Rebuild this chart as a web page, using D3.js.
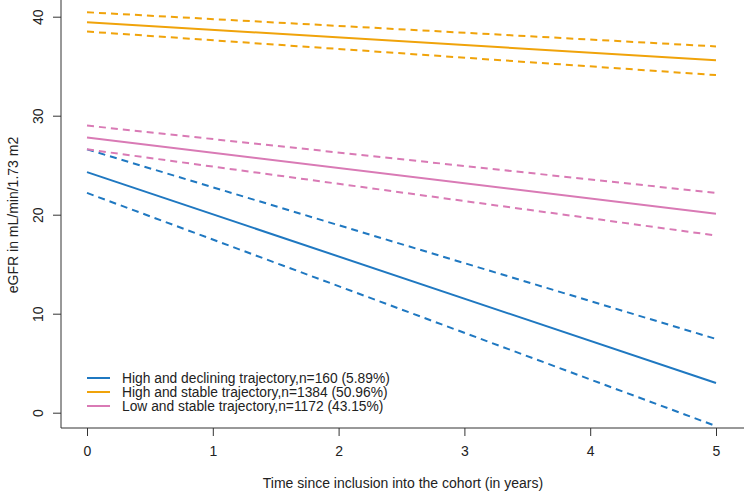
<!DOCTYPE html>
<html><head><meta charset="utf-8">
<script src="https://cdn.jsdelivr.net/npm/d3@7"></script>
<style>body{margin:0;background:#fff}svg{display:block}text{font-family:"Liberation Sans",Arial,sans-serif;fill:#222}</style>
</head><body>
<script>
const years = [0, 5];
const xTicks = [0, 1, 2, 3, 4, 5];
const yTicks = [0, 10, 20, 30, 40];
const groups = ["High and declining trajectory,n=160 (5.89%)", "High and stable trajectory,n=1384 (50.96%)", "Low and stable trajectory,n=1172 (43.15%)"];
const colors = ["#1f78c1", "#f0a30a", "#d97ab5"];
const meanDeclining = [24.3, 3.0];
const upperDeclining = [26.6, 7.45];
const lowerDeclining = [22.2, -1.35];
const meanHighStable = [39.45, 35.6];
const upperHighStable = [40.45, 37.0];
const lowerHighStable = [38.5, 34.1];
const meanLowStable = [27.8, 20.1];
const upperLowStable = [29.0, 22.2];
const lowerLowStable = [26.6, 17.9];

const W = 744, H = 494;
const svg = d3.select("body").append("svg").attr("width", W).attr("height", H);
const x = d3.scaleLinear().domain([0, 5]).range([87, 716]);
const y = d3.scaleLinear().domain([0, 40]).range([412.7, 16.7]);

svg.append("line").attr("x1", 61).attr("x2", 61).attr("y1", 0).attr("y2", 428).attr("stroke", "#333").attr("stroke-width", 1);
svg.append("line").attr("x1", 61).attr("x2", W).attr("y1", 428).attr("y2", 428).attr("stroke", "#333").attr("stroke-width", 1);

const xAxis = svg.append("g").attr("transform", "translate(0,428)")
  .call(d3.axisBottom(x).tickValues(xTicks).tickFormat(d3.format("d")).tickSize(8).tickPadding(10));
xAxis.select(".domain").remove();
xAxis.selectAll("line").attr("stroke", "#333");
xAxis.selectAll("text").attr("font-size", 14).style("fill", "#222");

const yAxis = svg.append("g").attr("transform", "translate(61,0)")
  .call(d3.axisLeft(y).tickValues(yTicks).tickFormat(d3.format("d")).tickSize(8).tickPadding(0));
yAxis.select(".domain").remove();
yAxis.selectAll("line").attr("stroke", "#333");
yAxis.selectAll("text").attr("font-size", 14).style("fill", "#222")
  .attr("text-anchor", "middle")
  .attr("transform", "translate(-23,0) rotate(-90)")
  .attr("x", 0).attr("dy", "0.35em").attr("y", 0);

svg.append("text").attr("x", 403).attr("y", 488).attr("text-anchor", "middle").attr("font-size", 14)
  .text("Time since inclusion into the cohort (in years)");
svg.append("text").attr("transform", "translate(18,215) rotate(-90)").attr("text-anchor", "middle").attr("font-size", 14)
  .text("eGFR in mL/min/1.73 m2");

const line = d3.line().x((d, i) => x(years[i])).y(d => y(d));
const series = [
  [upperDeclining, 0, true], [lowerDeclining, 0, true], [meanDeclining, 0, false],
  [upperHighStable, 1, true], [lowerHighStable, 1, true], [meanHighStable, 1, false],
  [upperLowStable, 2, true], [lowerLowStable, 2, true], [meanLowStable, 2, false]
];
series.forEach(([vals, g, dashed]) => {
  svg.append("path").attr("d", line(vals)).attr("fill", "none")
    .attr("stroke", colors[g]).attr("stroke-width", 2)
    .attr("stroke-dasharray", dashed ? "7,5" : null);
});

const leg = svg.append("g");
groups.forEach((name, i) => {
  const yy = 378 + i * 14;
  leg.append("line").attr("x1", 87).attr("x2", 110).attr("y1", yy).attr("y2", yy)
    .attr("stroke", colors[i]).attr("stroke-width", 2);
  leg.append("text").attr("x", 122).attr("y", yy).attr("dy", "0.35em").attr("font-size", 13.8).text(name);
});
</script>
</body></html>
